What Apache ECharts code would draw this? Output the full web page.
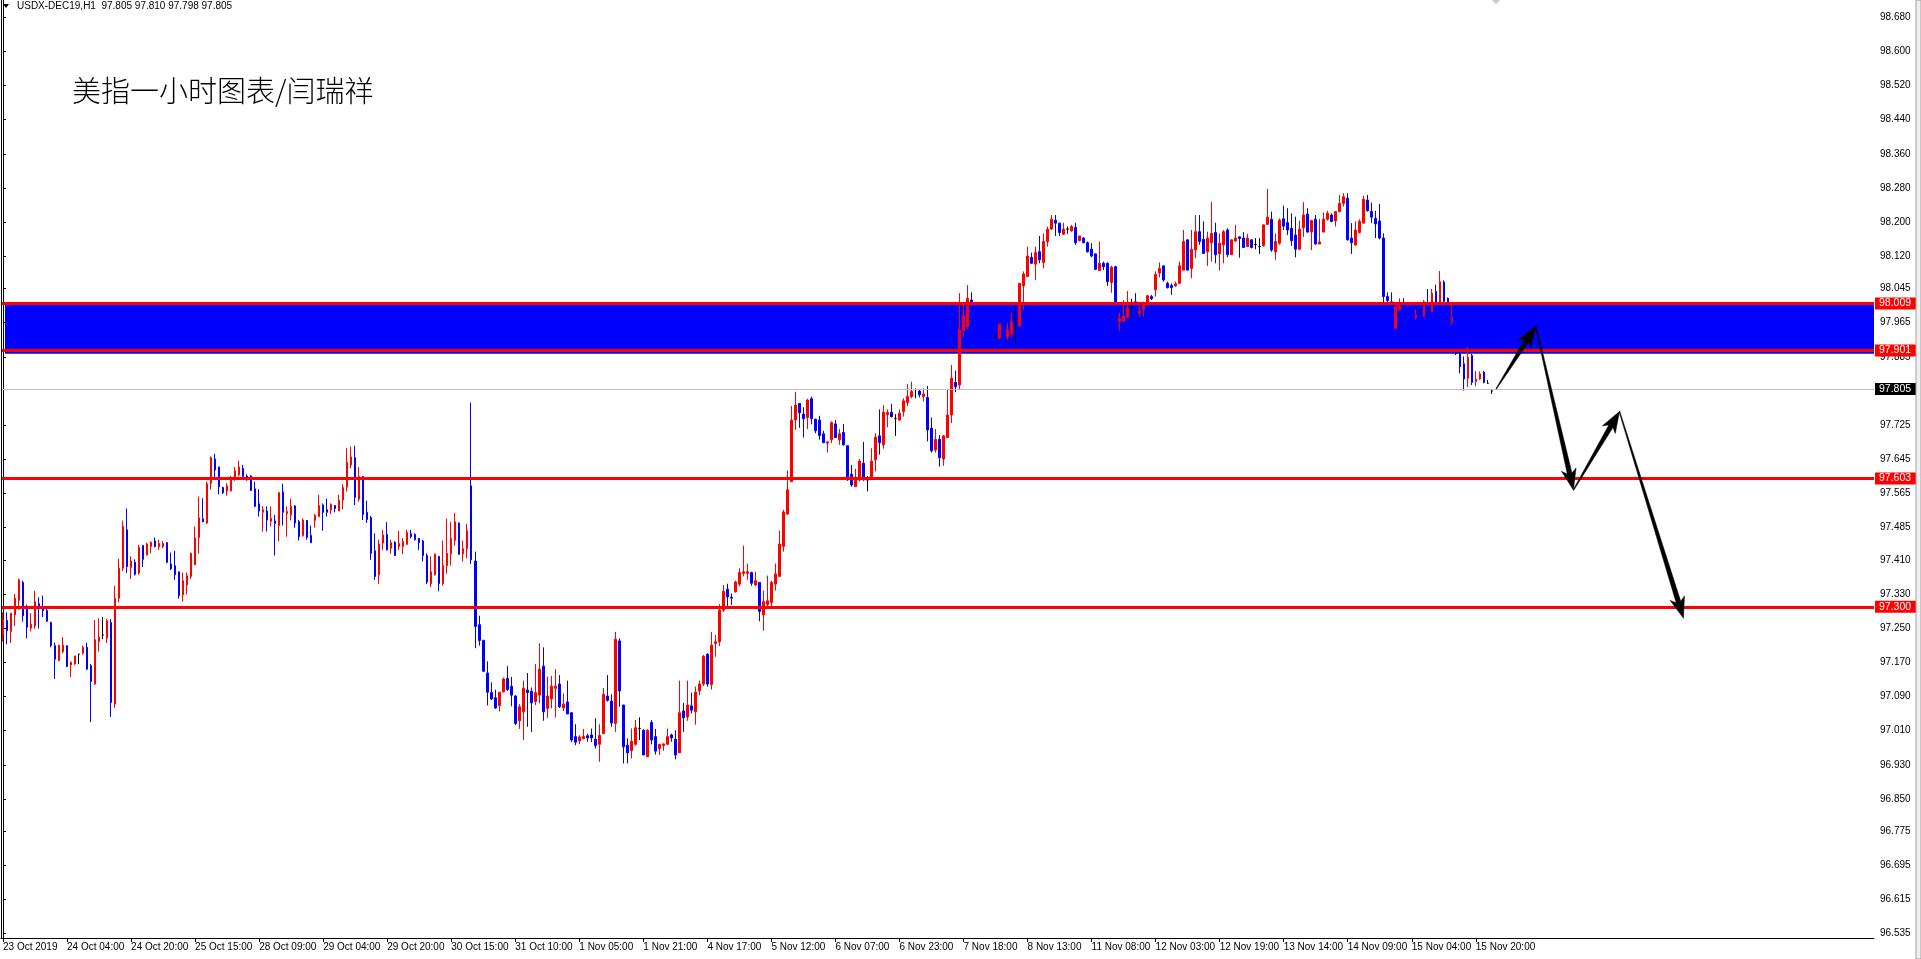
<!DOCTYPE html>
<html><head><meta charset="utf-8">
<script src="https://cdn.jsdelivr.net/npm/echarts@6/dist/echarts.min.js"></script>
<style>html,body{margin:0;padding:0;background:#fff;overflow:hidden}#c{width:1921px;height:959px;}</style>
</head><body><div id="c"></div>
<script>
// ---------- data ----------
const headerText = 'USDX-DEC19,H1  97.805 97.810 97.798 97.805';
const chartTitle = '美指一小时图表/闫瑞祥';
const timeLabels = ['23 Oct 2019','24 Oct 04:00','24 Oct 20:00','25 Oct 15:00','28 Oct 09:00','29 Oct 04:00','29 Oct 20:00','30 Oct 15:00','31 Oct 10:00','1 Nov 05:00','1 Nov 21:00','4 Nov 17:00','5 Nov 12:00','6 Nov 07:00','6 Nov 23:00','7 Nov 18:00','8 Nov 13:00','11 Nov 08:00','12 Nov 03:00','12 Nov 19:00','13 Nov 14:00','14 Nov 09:00','15 Nov 04:00','15 Nov 20:00'];
const barsPerLabel = 16;
const totalSlots = 468;
const priceTicks = [98.680,98.600,98.520,98.440,98.360,98.280,98.200,98.120,98.045,97.965,97.885,97.725,97.645,97.565,97.485,97.410,97.330,97.250,97.170,97.090,97.010,96.930,96.850,96.775,96.695,96.615,96.535];
const priceMin = 96.5246, priceMax = 98.7203;
const levelLines = [98.009, 97.901, 97.603, 97.300];
const zoneBand = [97.892, 98.012];
const lastPrice = 97.805;
// projected path (bar index, price)
const arrowPath = [[373.1,97.810],[383.0,97.957],[392.4,97.573],[403.9,97.757],[419.9,97.273]];
// hourly bars: [open, high, low, close]
const bars = [
[97.234,97.287,97.219,97.271],[97.268,97.287,97.212,97.244],[97.242,97.285,97.215,97.285],[97.281,97.330,97.255,97.320],
[97.315,97.366,97.293,97.363],[97.357,97.361,97.265,97.279],[97.298,97.305,97.226,97.252],[97.250,97.285,97.242,97.259],
[97.255,97.337,97.248,97.312],[97.307,97.322,97.249,97.296],[97.298,97.326,97.276,97.291],[97.291,97.297,97.265,97.266],
[97.263,97.265,97.205,97.209],[97.209,97.216,97.131,97.177],[97.174,97.211,97.172,97.210],[97.195,97.229,97.191,97.210],
[97.209,97.209,97.159,97.160],[97.164,97.172,97.135,97.170],[97.166,97.185,97.164,97.185],[97.189,97.189,97.166,97.189],
[97.191,97.209,97.188,97.205],[97.205,97.216,97.152,97.154],[97.162,97.166,97.030,97.125],[97.119,97.269,97.117,97.223],
[97.219,97.273,97.195,97.229],[97.234,97.276,97.224,97.234],[97.227,97.272,97.215,97.267],[97.263,97.271,97.042,97.076],
[97.072,97.349,97.063,97.320],[97.320,97.412,97.310,97.390],[97.390,97.502,97.384,97.488],[97.480,97.530,97.379,97.394],
[97.392,97.418,97.365,97.407],[97.404,97.411,97.373,97.376],[97.379,97.445,97.375,97.439],[97.443,97.445,97.393,97.411],
[97.421,97.450,97.420,97.447],[97.441,97.453,97.425,97.451],[97.454,97.462,97.439,97.441],[97.441,97.457,97.433,97.448],
[97.441,97.454,97.437,97.448],[97.450,97.451,97.402,97.404],[97.400,97.427,97.386,97.389],[97.396,97.431,97.363,97.375],
[97.382,97.382,97.319,97.326],[97.328,97.380,97.312,97.361],[97.351,97.380,97.329,97.373],[97.371,97.427,97.365,97.425],
[97.398,97.488,97.398,97.461],[97.462,97.558,97.424,97.508],[97.506,97.554,97.498,97.499],[97.496,97.593,97.494,97.588],
[97.589,97.652,97.574,97.649],[97.646,97.658,97.597,97.620],[97.627,97.628,97.563,97.581],[97.579,97.581,97.564,97.567],
[97.571,97.589,97.560,97.583],[97.571,97.606,97.570,97.599],[97.597,97.627,97.595,97.618],[97.609,97.642,97.605,97.627],
[97.624,97.632,97.602,97.605],[97.606,97.610,97.595,97.597],[97.606,97.608,97.571,97.572],[97.576,97.593,97.533,97.535],
[97.541,97.575,97.511,97.524],[97.521,97.536,97.476,97.527],[97.524,97.535,97.476,97.503],[97.500,97.535,97.488,97.507],
[97.501,97.515,97.420,97.495],[97.490,97.569,97.453,97.567],[97.569,97.588,97.490,97.521],[97.518,97.535,97.464,97.523],
[97.515,97.553,97.502,97.535],[97.536,97.538,97.485,97.496],[97.499,97.503,97.455,97.464],[97.467,97.507,97.464,97.503],
[97.502,97.503,97.457,97.462],[97.467,97.490,97.450,97.450],[97.502,97.517,97.485,97.514],[97.511,97.562,97.510,97.537],
[97.538,97.542,97.478,97.521],[97.527,97.553,97.511,97.521],[97.527,97.542,97.517,97.540],[97.537,97.538,97.521,97.530],
[97.524,97.562,97.524,97.549],[97.550,97.587,97.528,97.579],[97.580,97.671,97.570,97.638],[97.632,97.675,97.624,97.651],
[97.649,97.677,97.538,97.556],[97.552,97.627,97.546,97.605],[97.605,97.606,97.503,97.516],[97.521,97.548,97.496,97.504],
[97.509,97.513,97.410,97.425],[97.431,97.472,97.363,97.371],[97.375,97.457,97.354,97.447],[97.449,97.480,97.433,97.468],
[97.469,97.498,97.432,97.433],[97.437,97.457,97.424,97.450],[97.451,97.453,97.419,97.420],[97.441,97.478,97.433,97.448],
[97.441,97.461,97.423,97.453],[97.446,97.480,97.445,97.474],[97.471,97.480,97.460,97.464],[97.469,97.472,97.455,97.457],
[97.460,97.461,97.433,97.450],[97.454,97.457,97.406,97.420],[97.420,97.425,97.353,97.358],[97.354,97.418,97.346,97.382],
[97.375,97.425,97.373,97.423],[97.418,97.418,97.336,97.354],[97.354,97.455,97.350,97.397],[97.396,97.506,97.377,97.425],
[97.424,97.499,97.396,97.460],[97.455,97.520,97.443,97.499],[97.496,97.497,97.422,97.423],[97.424,97.455,97.406,97.436],
[97.436,97.494,97.414,97.478],[97.583,97.778,97.400,97.410],[97.407,97.429,97.203,97.254],[97.258,97.279,97.209,97.221],
[97.221,97.223,97.147,97.149],[97.145,97.172,97.069,97.100],[97.099,97.123,97.082,97.084],[97.087,97.106,97.061,97.063],
[97.069,97.100,97.055,97.100],[97.101,97.134,97.099,97.131],[97.132,97.161,97.103,97.106],[97.114,97.136,97.067,97.093],
[97.091,97.093,97.023,97.027],[97.033,97.072,97.014,97.066],[97.054,97.127,96.988,97.109],[97.105,97.145,97.019,97.099],
[97.102,97.111,97.007,97.075],[97.078,97.166,97.070,97.099],[97.093,97.214,97.074,97.154],[97.161,97.205,97.033,97.054],
[97.062,97.136,97.040,97.091],[97.084,97.138,97.062,97.114],[97.109,97.154,97.041,97.114],[97.119,97.140,97.063,97.066],
[97.063,97.097,97.056,97.072],[97.077,97.127,97.049,97.049],[97.052,97.053,96.983,96.988],[96.996,97.025,96.976,96.983],
[96.986,96.999,96.978,96.995],[96.991,97.014,96.990,96.996],[96.998,97.003,96.984,96.993],[97.000,97.015,96.983,96.993],
[96.990,97.039,96.968,96.975],[96.978,97.025,96.937,96.999],[97.003,97.110,97.002,97.095],[97.091,97.140,97.078,97.081],
[97.079,97.095,97.019,97.028],[97.027,97.241,97.007,97.224],[97.220,97.226,97.066,97.103],[97.070,97.070,96.933,96.972],
[96.976,96.992,96.933,96.958],[96.963,97.015,96.945,96.985],[96.978,97.035,96.975,97.017],[97.015,97.041,96.988,97.015],
[97.011,97.013,96.953,96.953],[96.949,97.013,96.949,97.011],[97.029,97.035,96.978,96.988],[96.996,97.014,96.954,96.962],
[96.968,96.978,96.953,96.978],[96.975,96.980,96.963,96.979],[96.978,97.015,96.976,96.996],[97.000,97.003,96.984,96.993],
[96.990,97.011,96.943,96.953],[96.958,97.127,96.958,97.052],[97.056,97.075,97.007,97.040],[97.042,97.127,97.033,97.070],
[97.068,97.099,97.050,97.058],[97.054,97.113,97.024,97.100],[97.103,97.127,97.093,97.119],[97.119,97.187,97.114,97.184],
[97.189,97.191,97.113,97.119],[97.118,97.241,97.106,97.210],[97.214,97.234,97.183,97.218],[97.218,97.306,97.208,97.292],
[97.292,97.351,97.288,97.336],[97.341,97.354,97.302,97.323],[97.322,97.331,97.304,97.320],[97.335,97.361,97.333,97.358],
[97.353,97.390,97.348,97.380],[97.378,97.443,97.371,97.382],[97.378,97.401,97.363,97.382],[97.380,97.382,97.349,97.355],
[97.351,97.382,97.349,97.361],[97.357,97.357,97.266,97.289],[97.281,97.338,97.244,97.312],[97.305,97.373,97.297,97.314],
[97.310,97.361,97.297,97.357],[97.353,97.401,97.338,97.377],[97.371,97.478,97.371,97.447],[97.441,97.527,97.429,97.522],
[97.517,97.619,97.515,97.574],[97.593,97.770,97.593,97.737],[97.737,97.803,97.714,97.772],[97.776,97.776,97.719,97.754],
[97.751,97.767,97.696,97.740],[97.743,97.787,97.716,97.784],[97.787,97.792,97.727,97.740],[97.739,97.740,97.706,97.712],
[97.737,97.747,97.691,97.701],[97.705,97.712,97.683,97.684],[97.683,97.686,97.661,97.686],[97.691,97.734,97.683,97.731],
[97.728,97.737,97.695,97.696],[97.691,97.716,97.679,97.705],[97.708,97.728,97.677,97.679],[97.677,97.677,97.595,97.597],
[97.610,97.632,97.581,97.585],[97.581,97.623,97.581,97.599],[97.597,97.646,97.593,97.641],[97.636,97.686,97.595,97.597],
[97.597,97.606,97.570,97.597],[97.599,97.671,97.599,97.641],[97.644,97.706,97.617,97.697],[97.700,97.762,97.656,97.684],
[97.679,97.772,97.670,97.755],[97.750,97.762,97.720,97.755],[97.755,97.775,97.743,97.745],[97.741,97.751,97.700,97.741],
[97.737,97.762,97.736,97.753],[97.757,97.788,97.745,97.782],[97.778,97.821,97.770,97.792],[97.792,97.827,97.788,97.804],
[97.808,97.811,97.788,97.808],[97.805,97.808,97.790,97.796],[97.792,97.811,97.780,97.798],[97.790,97.817,97.687,97.714],
[97.718,97.743,97.661,97.665],[97.667,97.716,97.661,97.692],[97.692,97.702,97.628,97.649],[97.646,97.702,97.630,97.700],
[97.696,97.808,97.696,97.749],[97.749,97.866,97.730,97.835],[97.825,97.853,97.802,97.815],[97.819,98.034,97.810,97.950],
[97.946,98.014,97.931,97.982],[97.956,98.053,97.950,98.022],[98.018,98.036,98.000,98.009],[98.009,98.012,97.975,97.985],
[97.985,97.995,97.955,97.968],[97.968,97.978,97.945,97.955],[97.955,97.965,97.935,97.945],[97.945,97.950,97.925,97.935],
[97.932,97.939,97.926,97.932],[97.929,97.962,97.926,97.962],[97.960,97.965,97.935,97.945],[97.932,97.964,97.925,97.948],
[97.940,97.987,97.931,97.967],[97.964,97.996,97.917,97.964],[97.957,98.057,97.956,98.057],[98.051,98.085,97.995,98.079],
[98.073,98.143,98.073,98.121],[98.118,98.129,98.102,98.104],[98.102,98.143,98.065,98.129],[98.131,98.168,98.104,98.112],
[98.106,98.174,98.092,98.155],[98.155,98.190,98.143,98.184],[98.184,98.217,98.182,98.207],[98.205,98.217,98.168,98.198],
[98.198,98.199,98.168,98.176],[98.172,98.199,98.170,98.184],[98.184,98.190,98.173,98.184],[98.180,98.194,98.178,98.190],
[98.188,98.199,98.147,98.152],[98.157,98.168,98.155,98.168],[98.163,98.165,98.151,98.152],[98.152,98.155,98.129,98.131],
[98.137,98.151,98.118,98.121],[98.126,98.127,98.088,98.090],[98.087,98.155,98.086,98.104],[98.104,98.108,98.088,98.096],
[98.104,98.106,98.051,98.061],[98.059,98.098,98.035,98.095],[98.096,98.098,97.950,97.960],[97.968,97.989,97.946,97.975],
[97.968,98.018,97.968,97.981],[97.977,98.039,97.977,98.000],[97.999,98.021,97.978,97.999],[98.014,98.034,98.009,98.010],
[97.987,98.007,97.978,97.992],[97.995,98.014,97.979,98.012],[98.010,98.030,98.003,98.028],[98.026,98.030,98.018,98.021],
[98.042,98.085,98.026,98.078],[98.081,98.106,98.071,98.092],[98.098,98.098,98.061,98.065],[98.057,98.061,98.045,98.047],
[98.052,98.057,98.030,98.047],[98.051,98.061,98.049,98.056],[98.057,98.108,98.056,98.098],[98.088,98.182,98.088,98.155],
[98.159,98.159,98.087,98.088],[98.092,98.182,98.069,98.137],[98.135,98.217,98.116,98.178],[98.178,98.217,98.147,98.155],
[98.160,98.202,98.126,98.127],[98.131,98.178,98.098,98.163],[98.152,98.248,98.108,98.174],[98.176,98.199,98.104,98.124],
[98.126,98.174,98.087,98.151],[98.147,98.182,98.104,98.178],[98.182,98.186,98.118,98.124],[98.124,98.159,98.124,98.159],
[98.156,98.194,98.155,98.163],[98.166,98.166,98.117,98.162],[98.163,98.177,98.141,98.141],[98.143,98.173,98.143,98.163],
[98.159,98.159,98.139,98.141],[98.148,98.163,98.137,98.148],[98.143,98.163,98.126,98.143],[98.145,98.194,98.143,98.194],
[98.195,98.278,98.194,98.212],[98.207,98.225,98.131,98.135],[98.131,98.174,98.112,98.155],[98.151,98.209,98.147,98.205],
[98.208,98.239,98.182,98.191],[98.199,98.233,98.170,98.182],[98.186,98.221,98.145,98.157],[98.170,98.213,98.118,98.137],
[98.137,98.204,98.135,98.184],[98.187,98.247,98.166,98.217],[98.219,98.233,98.176,98.177],[98.177,98.205,98.135,98.204],
[98.207,98.217,98.148,98.149],[98.149,98.208,98.149,98.154],[98.177,98.223,98.177,98.207],[98.207,98.227,98.204,98.221],
[98.217,98.221,98.200,98.202],[98.203,98.225,98.190,98.225],[98.225,98.264,98.223,98.244],[98.244,98.268,98.237,98.260],
[98.256,98.268,98.157,98.159],[98.163,98.198,98.126,98.152],[98.147,98.202,98.145,98.182],[98.176,98.207,98.174,98.202],
[98.198,98.262,98.198,98.254],[98.252,98.264,98.225,98.227],[98.225,98.246,98.198,98.212],[98.209,98.227,98.163,98.196],
[98.203,98.243,98.160,98.163],[98.163,98.174,98.012,98.026],[98.026,98.036,98.007,98.017],[98.014,98.036,98.007,98.011],
[97.952,98.005,97.950,98.003],[97.995,98.022,97.993,98.004],[98.012,98.022,97.985,97.995],[97.995,98.000,97.965,97.975],
[97.975,97.985,97.955,97.965],[97.976,97.997,97.973,97.983],[97.990,97.995,97.970,97.980],[97.979,98.018,97.979,98.014],
[98.012,98.044,97.990,97.995],[97.991,98.044,97.991,98.034],[98.038,98.054,98.011,98.011],[98.012,98.086,98.012,98.061],
[98.060,98.064,98.011,98.015],[98.022,98.024,98.011,98.012],[97.968,98.007,97.960,97.976],[97.925,97.945,97.889,97.893],
[97.892,97.895,97.846,97.862],[97.869,97.886,97.806,97.833],[97.835,97.908,97.814,97.884],[97.888,97.892,97.819,97.825],
[97.827,97.852,97.816,97.833],[97.833,97.851,97.831,97.845],[97.849,97.852,97.823,97.825],[97.823,97.831,97.822,97.823],
[97.805,97.810,97.798,97.805]
];

// ---------- chart ----------
const FONT = 'Liberation Sans, Arial, sans-serif';
const chart = echarts.init(document.getElementById('c'), null, {renderer: 'canvas'});
const cats = Array.from({length: totalSlots}, (_, i) => String(i));
const candleData = bars.map(b => [b[0], b[3], b[2], b[1]]);
const arrowSegs = [];
for (let i = 0; i < arrowPath.length - 1; i++) {
  arrowSegs.push([arrowPath[i][0], arrowPath[i][1], arrowPath[i+1][0], arrowPath[i+1][1]]);
}
const showIdx = (idx) => idx % barsPerLabel === 0 && (idx / barsPerLabel) < timeLabels.length;

function redLevel(v) {
  return {
    yAxis: v,
    lineStyle: {color: '#ff0000', width: 3, type: 'solid'},
    label: {show: true, position: 'end', distance: 1, formatter: v.toFixed(3),
      color: '#ffffff', backgroundColor: '#ff0000', padding: [1, 5, 0, 4],
      fontSize: 10.5, fontFamily: FONT, lineHeight: 11}
  };
}

const option = {
  animation: false,
  backgroundColor: '#ffffff',
  grid: {left: 0, top: 0, width: 1874, height: 938, containLabel: false},
  xAxis: [{
    type: 'category', data: cats, boundaryGap: true,
    axisLine: {show: true, lineStyle: {color: '#000', width: 1}},
    axisTick: {show: true, alignWithLabel: true, interval: (i) => showIdx(i), length: 4, lineStyle: {color: '#000'}},
    axisLabel: {show: true, interval: (i) => showIdx(i), formatter: (v, i) => timeLabels[i / barsPerLabel] || '',
      align: 'left', margin: 4, fontSize: 10, color: '#000', fontFamily: FONT},
    splitLine: {show: false}
  }, {
    type: 'value', show: false, min: -0.5, max: totalSlots - 0.5, gridIndex: 0
  }],
  yAxis: [{
    type: 'value', position: 'right', min: priceMin, max: priceMax, scale: true,
    axisLine: {show: true, lineStyle: {color: '#000', width: 1}},
    axisTick: {show: true, length: 3, customValues: priceTicks, lineStyle: {color: '#000'}},
    axisLabel: {show: true, customValues: priceTicks, formatter: (v) => Number(v).toFixed(3),
      margin: 6, fontSize: 10, color: '#000', fontFamily: FONT},
    splitLine: {show: false}
  }],
  series: [
    {
      name: 'zone', type: 'line', data: [], z: 1, silent: true,
      markArea: {silent: true, itemStyle: {color: '#0000ff', opacity: 1},
        data: [[{yAxis: zoneBand[1], x: 5}, {yAxis: zoneBand[0]}]]}
    },
    {
      name: 'USDX', type: 'candlestick', data: candleData, z: 2,
      barWidth: 2,
      itemStyle: {color: '#ff0000', color0: '#0000ff', borderColor: '#ff0000', borderColor0: '#0000ff',
        borderColorDoji: '#000000', borderWidth: 1},
      emphasis: {disabled: true}
    },
    {
      name: 'levels', type: 'line', data: [], z: 5, silent: true,
      markLine: {
        silent: true, symbol: ['none', 'none'], animation: false,
        data: [
          {yAxis: lastPrice, lineStyle: {color: '#c0c0c0', width: 1, type: 'solid'},
            label: {show: true, position: 'end', distance: 1, formatter: lastPrice.toFixed(3),
              color: '#ffffff', backgroundColor: '#000000', padding: [1, 5, 0, 4],
              fontSize: 10.5, fontFamily: FONT, lineHeight: 11}},
          ...levelLines.map(redLevel)
        ]
      }
    },
    {
      name: 'path', type: 'custom', xAxisIndex: 1, yAxisIndex: 0, z: 6, silent: true, clip: false,
      data: arrowSegs,
      encode: {x: [0, 2], y: [1, 3]},
      renderItem: function (params, api) {
        const p1 = api.coord([api.value(0), api.value(1)]);
        const p2 = api.coord([api.value(2), api.value(3)]);
        const dx = p2[0] - p1[0], dy = p2[1] - p1[1];
        const len = Math.hypot(dx, dy);
        const ux = dx / len, uy = dy / len, nx = -uy, ny = ux;
        const HL = 21, HW = 7.5, W0 = 0.4, W1 = 2.4, notch = 4;
        const bx = p2[0] - ux * (HL - notch), by = p2[1] - uy * (HL - notch);
        const hx = p2[0] - ux * HL, hy = p2[1] - uy * HL;
        const pts = [
          [p1[0] + nx * W0, p1[1] + ny * W0],
          [bx + nx * W1, by + ny * W1],
          [hx + nx * HW, hy + ny * HW],
          [p2[0], p2[1]],
          [hx - nx * HW, hy - ny * HW],
          [bx - nx * W1, by - ny * W1],
          [p1[0] - nx * W0, p1[1] - ny * W0]
        ];
        return {type: 'polygon', shape: {points: pts}, style: {fill: '#000000', stroke: '#000000', lineWidth: 0.5}};
      }
    }
  ],
  graphic: [
    {type: 'line', shape: {x1: 1.5, y1: 0, x2: 1.5, y2: 938}, style: {stroke: '#000', lineWidth: 1}, z: 10},
    {type: 'polygon', shape: {points: [[3, 4], [9, 4], [6, 8]]}, style: {fill: '#000'}, z: 10},
    {type: 'text', left: 17, top: 1, z: 10,
      style: {text: headerText, fill: '#000', font: '10px ' + FONT}},
    {type: 'text', left: 72, top: 76, z: 10,
      style: {text: chartTitle, fill: '#000', font: '300 29px "Noto Sans CJK SC", sans-serif'}},
    {type: 'polygon', shape: {points: [[1492, 0], [1500, 0], [1496, 4]]}, style: {fill: '#c8c8c8'}, z: 10},
    {type: 'rect', shape: {x: 1916, y: 0, width: 5, height: 959}, style: {fill: '#f0f0f0', stroke: '#a0a0a0', lineWidth: 1}, z: 10}
  ]
};
chart.setOption(option);
</script>
</body></html>
